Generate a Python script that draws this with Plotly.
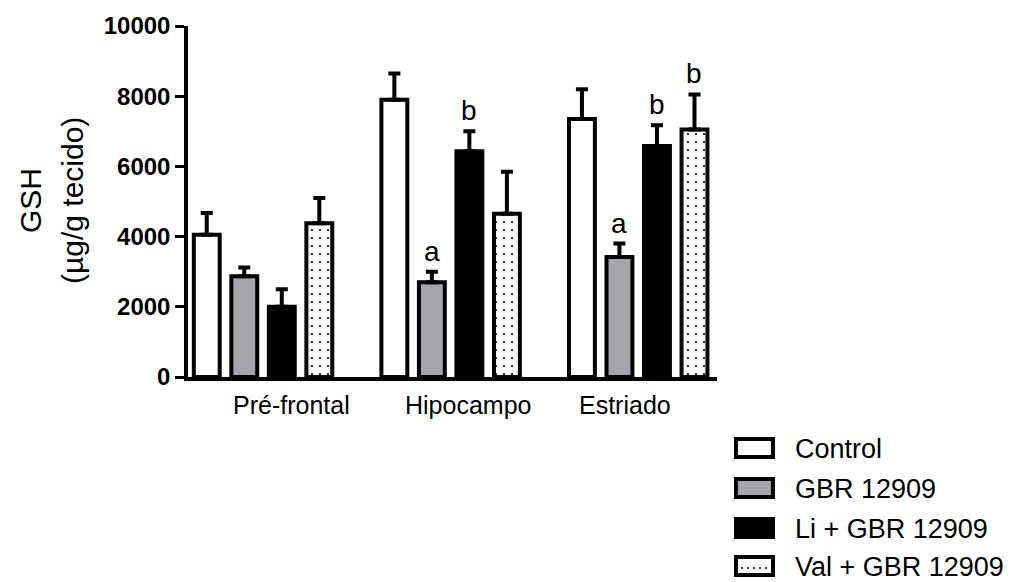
import plotly.graph_objects as go

# ---------------- data ----------------
regions = ["Pré-frontal", "Hipocampo", "Estriado"]
series = ["Control", "GBR 12909", "Li + GBR 12909", "Val + GBR 12909"]

control = [4050, 7900, 7350]
gbr = [2870, 2700, 3420]
li_gbr = [2000, 6430, 6580]
val_gbr = [4380, 4650, 7050]

control_err = [620, 750, 850]
gbr_err = [250, 300, 380]
li_gbr_err = [500, 570, 590]
val_gbr_err = [720, 1200, 1000]

# significance letters: (region index, series index, letter)
sig_region = [1, 1, 2, 2, 2]
sig_series = [1, 2, 1, 2, 3]
sig_letter = ["a", "b", "a", "b", "b"]

y_ticks = [0, 2000, 4000, 6000, 8000, 10000]
y_tick_text = ["0", "2000", "4000", "6000", "8000", "10000"]

# ---------------- style ----------------
W, H = 1020, 582
L, R, T, B = 188, 303, 26, 205
FONT = "Arial, Liberation Sans, sans-serif"
GRAY = "#a4a4aa"
fills = ["white", GRAY, "black", "white"]
patterns = [None, None, None, "."]
label_offset = [0.15, 0.09, -0.07]   # label shift of each category name

values = [control, gbr, li_gbr, val_gbr]
errors = [control_err, gbr_err, li_gbr_err, val_gbr_err]

fig = go.Figure()
for i, name in enumerate(series):
    marker = dict(color=fills[i], line=dict(color="black", width=4))
    if patterns[i]:
        marker["pattern"] = dict(shape=patterns[i], fgcolor="black", bgcolor="white",
                                 size=8, solidity=0.06, fillmode="replace")
    fig.add_trace(go.Bar(
        x=regions, y=values[i], name=name, marker=marker,
        error_y=dict(type="data", array=errors[i], symmetric=False,
                     arrayminus=[0] * len(regions), color="black",
                     thickness=4, width=6),
        showlegend=False,
    ))

n = len(series)
slot = 0.8 / n
for r, s, letter in zip(sig_region, sig_series, sig_letter):
    xpos = r + (s - (n - 1) / 2) * slot
    fig.add_annotation(x=xpos, y=values[s][r] + errors[s][r], text=letter,
                       showarrow=False, yanchor="bottom", yshift=3,
                       font=dict(family=FONT, size=28, color="black"))

# category labels
for k, reg in enumerate(regions):
    fig.add_annotation(x=k + label_offset[k], y=0, yref="paper", text=reg,
                       showarrow=False, yanchor="top", yshift=-12,
                       font=dict(family=FONT, size=25, color="black"))

pw = W - L - R
ph = H - T - B


def px(xp):
    return (xp - L) / pw


def py(yp):
    return (H - B - yp) / ph


# y axis title
fig.add_annotation(x=px(30), y=py(201), xref="paper", yref="paper", text="GSH",
                   textangle=-90, showarrow=False, xanchor="center", yanchor="middle",
                   font=dict(family=FONT, size=30, color="black"))
fig.add_annotation(x=px(72), y=py(201), xref="paper", yref="paper", text="(µg/g tecido)",
                   textangle=-90, showarrow=False, xanchor="center", yanchor="middle",
                   font=dict(family=FONT, size=30, color="black"))

# custom legend
row_y = [448, 488, 528, 566]
for i, name in enumerate(series):
    cy = row_y[i]
    fig.add_shape(type="rect", xref="paper", yref="paper",
                  x0=px(736), x1=px(773), y0=py(cy - 9), y1=py(cy + 9),
                  line=dict(color="black", width=4), fillcolor=fills[i])
    if patterns[i]:
        for d in range(5):
            cx = 742 + d * 6
            fig.add_shape(type="circle", xref="paper", yref="paper",
                          x0=px(cx - 1), x1=px(cx + 1), y0=py(cy + 1), y1=py(cy + 3),
                          line=dict(width=0), fillcolor="black")
    fig.add_annotation(x=px(794), y=py(cy + 1), xref="paper", yref="paper", text=name,
                       showarrow=False, xanchor="left", yanchor="middle", borderpad=0,
                       font=dict(family=FONT, size=27, color="black"))

fig.update_layout(
    width=W, height=H,
    margin=dict(l=L, r=R, t=T, b=B, pad=0),
    paper_bgcolor="white", plot_bgcolor="white",
    barmode="group", bargap=0.2, bargroupgap=0.31,
    showlegend=False,
)
fig.update_xaxes(range=[-0.4, 2.42], showline=True, linecolor="black", linewidth=4,
                 showticklabels=False, ticks="", showgrid=False, zeroline=False)
fig.update_yaxes(range=[0, 10000], tickvals=y_ticks, ticktext=y_tick_text,
                 showline=True, linecolor="black",
                 linewidth=3.5, ticks="outside", ticklen=9, tickwidth=3, tickcolor="black",
                 showgrid=False, zeroline=False,
                 tickfont=dict(family=FONT, size=24, color="black", weight="bold"))

fig.write_html("out.html", config={"displayModeBar": False},
               post_script="document.body.style.margin='0';document.body.style.overflow='hidden';")
